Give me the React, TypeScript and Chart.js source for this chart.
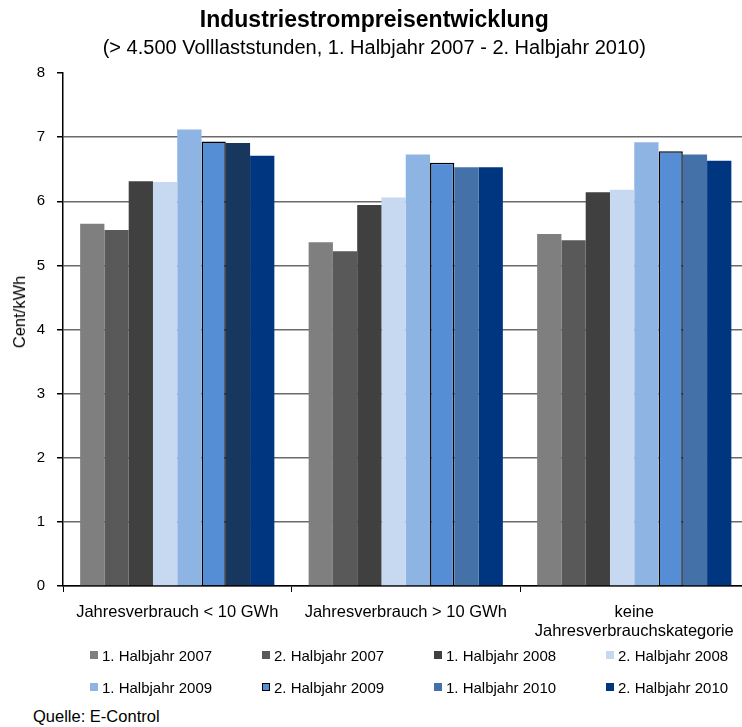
import React, { useEffect, useRef } from "react";
import { Chart, registerables } from "chart.js";

Chart.register(...registerables);

const FONT = "'Liberation Sans', Arial, sans-serif";

const categories: (string | string[])[] = [
  "Jahresverbrauch < 10 GWh",
  "Jahresverbrauch > 10 GWh",
  ["keine", "Jahresverbrauchskategorie"],
];

const seriesLabels = [
  "1. Halbjahr 2007",
  "2. Halbjahr 2007",
  "1. Halbjahr 2008",
  "2. Halbjahr 2008",
  "1. Halbjahr 2009",
  "2. Halbjahr 2009",
  "1. Halbjahr 2010",
  "2. Halbjahr 2010",
];

const h1_2007 = [5.65, 5.36, 5.49];
const h2_2007 = [5.55, 5.22, 5.39];
const h1_2008 = [6.31, 5.94, 6.14];
const h2_2008 = [6.3, 6.06, 6.18];
const h1_2009 = [7.12, 6.73, 6.92];
const h2_2009 = [6.93, 6.6, 6.78];
const h1_2010 = [6.91, 6.53, 6.73];
const h2_2010 = [6.71, 6.53, 6.63];

const seriesValues = [h1_2007, h2_2007, h1_2008, h2_2008, h1_2009, h2_2009, h1_2010, h2_2010];

const seriesColors: (string | string[])[] = [
  "#7F7F7F",
  "#595959",
  "#404040",
  "#C6D9F1",
  "#8EB4E3",
  "#558ED5",
  ["#17375E", "#4472A8", "#4472A8"],
  "#00367F",
];
const legendColors = ["#7F7F7F", "#595959", "#404040", "#C6D9F1", "#8EB4E3", "#558ED5", "#4472A8", "#00367F"];
const seriesBorders = [false, false, false, false, false, true, false, false];

const yTicks = [0, 1, 2, 3, 4, 5, 6, 7, 8];

const title = "Industriestrompreisentwicklung";
const subtitle = "(> 4.500 Volllaststunden, 1. Halbjahr 2007 - 2. Halbjahr 2010)";
const yTitle = "Cent/kWh";
const source = "Quelle: E-Control";

export default function App() {
  const canvasRef = useRef<HTMLCanvasElement | null>(null);

  useEffect(() => {
    if (!canvasRef.current) return;
    const chart = new Chart(canvasRef.current, {
      type: "bar",
      data: {
        labels: categories as any,
        datasets: seriesLabels.map((label, i) => ({
          label,
          data: seriesValues[i],
          backgroundColor: seriesColors[i] as any,
          borderColor: seriesBorders[i] ? "#000000" : "rgba(0,0,0,0)",
          borderWidth: seriesBorders[i] ? 1.5 : 0,
          categoryPercentage: 0.85,
          barPercentage: 1,
        })),
      },
      options: {
        animation: false,
        responsive: false,
        maintainAspectRatio: false,
        layout: { padding: { left: 0, right: 3.5, top: 0, bottom: 0 } },
        plugins: {
          legend: { display: false },
          tooltip: { enabled: false },
          title: {
            display: true,
            text: title,
            color: "#000",
            font: { family: FONT, size: 23, weight: "bold", lineHeight: 1.2 },
            padding: { top: 7, bottom: 0 },
          },
          subtitle: {
            display: true,
            text: subtitle,
            color: "#000",
            font: { family: FONT, size: 20, lineHeight: 1.2 },
            padding: { top: 2, bottom: 12.4 },
          },
        },
        scales: {
          x: {
            offset: true,
            grid: {
              display: true,
              drawOnChartArea: false,
              drawTicks: true,
              tickLength: 6,
              tickColor: "#000",
              offset: true,
            },
            border: { display: true, color: "#000", width: 1.5 },
            ticks: {
              color: "#000",
              padding: 11,
              maxRotation: 0,
              autoSkip: false,
              font: { family: FONT, size: 16.5, lineHeight: 1.15 },
            },
            afterFit: (s: any) => {
              s.height = 60;
            },
          },
          y: {
            min: 0,
            max: 8,
            afterBuildTicks: (s: any) => {
              s.ticks = yTicks.map((v) => ({ value: v }));
            },
            grid: {
              color: (ctx: any) => (ctx.tick && ctx.tick.value === 8 ? "rgba(0,0,0,0)" : "#6A6A6A"),
              lineWidth: 1.5,
              tickColor: "#000",
              tickLength: 6,
              drawTicks: true,
            },
            border: { display: true, color: "#000", width: 1.5 },
            ticks: {
              color: "#000",
              padding: 12,
              font: { family: FONT, size: 15 },
            },
            afterFit: (s: any) => {
              s.width = 63;
            },
          },
        },
      },
    });
    return () => chart.destroy();
  }, []);

  return (
    <div
      style={{
        position: "absolute",
        left: 0,
        top: 0,
        width: 742,
        height: 727,
        overflow: "hidden",
        background: "#fff",
        fontFamily: FONT,
      }}
    >
      <canvas ref={canvasRef} width={752} height={646} style={{ position: "absolute", left: 0, top: 0, width: 752, height: 646 }} />
      <div
        style={{
          position: "absolute",
          left: 19,
          top: 312,
          transform: "translate(-50%, -50%) rotate(-90deg)",
          fontSize: 16.5,
          color: "#000",
          whiteSpace: "nowrap",
          lineHeight: "18px",
        }}
      >
        {yTitle}
      </div>
      <div style={{ position: "absolute", left: 0, top: 639, width: 742, height: 64 }}>
        {seriesLabels.map((label, i) => {
          const row = Math.floor(i / 4);
          const col = i % 4;
          return (
            <div
              key={label}
              style={{
                position: "absolute",
                left: 90 + col * 172,
                top: row * 32,
                height: 32,
                display: "flex",
                alignItems: "center",
                whiteSpace: "nowrap",
                fontSize: 15,
                color: "#000",
              }}
            >
              <span
                style={{
                  display: "inline-block",
                  width: 8,
                  height: 8,
                  boxSizing: "border-box",
                  background: legendColors[i],
                  border: seriesBorders[i] ? "1.5px solid #000" : "none",
                  marginRight: 4,
                }}
              />
              <span>{label}</span>
            </div>
          );
        })}
      </div>
      <div
        style={{
          position: "absolute",
          left: 33,
          top: 706,
          fontSize: 16.5,
          lineHeight: "20px",
          color: "#000",
          whiteSpace: "nowrap",
        }}
      >
        {source}
      </div>
    </div>
  );
}
